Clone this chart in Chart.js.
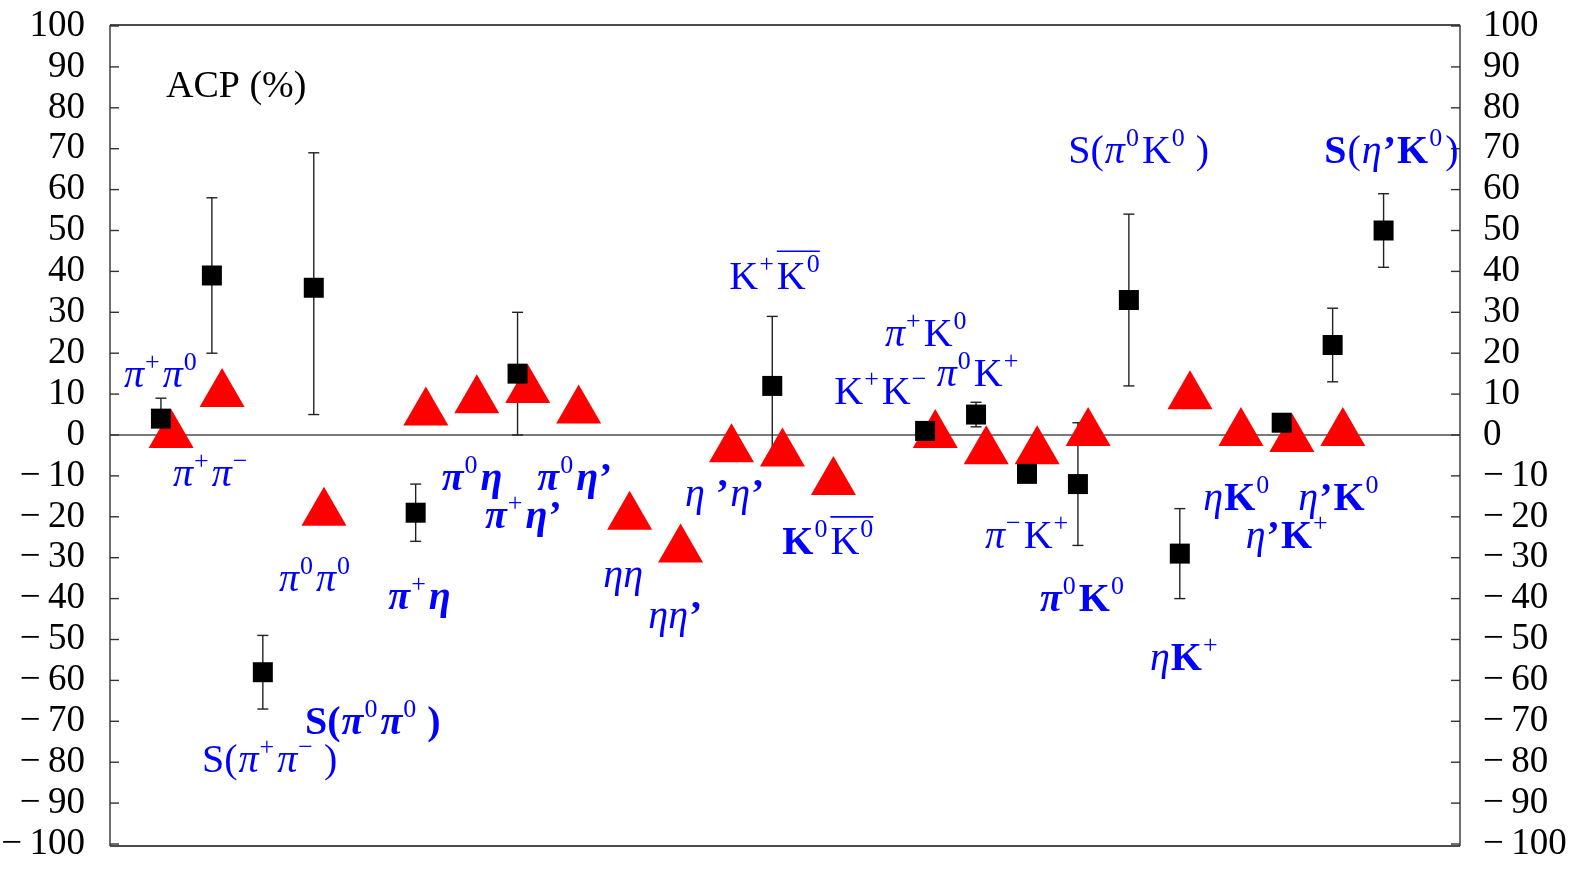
<!DOCTYPE html>
<html>
<head>
<meta charset="utf-8">
<script src="https://cdn.jsdelivr.net/npm/chart.js@4"></script>
<style>
  html, body { margin: 0; padding: 0; background: #fff; overflow: hidden; }
  canvas { display: block; }
</style>
</head>
<body>
<canvas id="acp" width="1571" height="870"></canvas>
<script>
// ---- data -------------------------------------------------------------
// y axis range and tick step (ACP in %)
const yMin = -100, yMax = 100, yStep = 10;

// measured values (black squares) with asymmetric errors
const expPos      = [0, 1, 2, 3, 5, 7, 12, 15, 16, 17, 18, 19, 20, 22, 23, 24];
const expValue    = [4, 39, -58, 36, -19, 15, 12, 1, 5, -9.5, -12, 33, -29, 3, 22, 50];
const expErrPlus  = [5, 19, 9, 33, 7, 15, 17, 2, 3, 2, 15, 21, 11, 2, 9, 9];
const expErrMinus = [5, 19, 9, 31, 7, 15, 17, 2, 3, 2, 15, 21, 11, 2, 9, 9];

// predictions (red triangles)
const thPos   = [0.2, 1.2, 3.2, 5.2, 6.2, 7.2, 8.2, 9.2, 10.2, 11.2, 12.2, 13.2, 15.2, 16.2, 17.2, 18.2, 20.2, 21.2, 22.2, 23.2];
const thValue = [0, 10, -19, 5.5, 8.5, 11, 6, -20, -28, -3.5, -4.5, -11.5, 0, -4, -4, 0.5, 9.5, 0.5, -1, 0.5];

// decay-channel names; each run is [text, flags] with
// i = italic, b = bold, s = superscript, o = overline
const channelNames = [
  [['π','i'],['+','s'],['π','i'],['0','s']],
  [['π','i'],['+','s'],['π','i'],['−','s']],
  [['π','i'],['0','s'],['π','i'],['0','s']],
  [['S(',''],['π','i'],['+','s'],['π','i'],['−','s'],['\u2009)','']],
  [['S(','b'],['π','bi'],['0','s'],['π','bi'],['0','s'],['\u2009)','b']],
  [['π','bi'],['+','s'],['η','bi']],
  [['π','bi'],['0','s'],['η','bi']],
  [['π','bi'],['+','s'],['η','bi'],['’','b']],
  [['π','bi'],['0','s'],['η','bi'],['’','b']],
  [['ηη','i']],
  [['ηη','i'],['’','b']],
  [['η ','i'],['’','b'],['η','i'],['’','b']],
  [['K',''],['+','s'],['K','o'],['0','so']],
  [['K','b'],['0','s'],['K','o'],['0','so']],
  [['π','i'],['+','s'],['K',''],['0','s']],
  [['K',''],['+','s'],['K',''],['−','s']],
  [['π','i'],['0','s'],['K',''],['+','s']],
  [['π','i'],['−','s'],['K',''],['+','s']],
  [['π','bi'],['0','s'],['K','b'],['0','s']],
  [['S(',''],['π','i'],['0','s'],['K',''],['0','s'],['\u2009)','']],
  [['η','i'],['K','b'],['+','s']],
  [['η','i'],['K','b'],['0','s']],
  [['η','i'],['’','b'],['K','b'],['0','s']],
  [['η','i'],['’','b'],['K','b'],['+','s']],
  [['S','b'],['(',''],['η','i'],['’','b'],['K','b'],['0','s'],[')','']]
];

// ---- layout -----------------------------------------------------------
// where each channel name sits (left end of its baseline, in axis units)
const channelAnchors = [
  [-0.725, 11.68], [0.237, -12.38], [2.317, -38.02], [0.806, -82.51], [2.828, -73.06],
  [4.463, -42.44], [5.511, -13.41], [6.361, -22.79], [7.388, -13.41], [8.683, -37.22],
  [9.567, -47.08], [10.287, -17.43], [11.157, 35.73], [12.197, -29.21], [14.213, 21.88],
  [13.218, 7.52], [15.228, 11.92], [16.176, -27.6], [17.256, -43.07], [17.811, 66.61],
  [19.415, -57.5], [20.461, -18.22], [22.326, -18.22], [21.294, -27.6], [22.836, 66.61]
];
const titleText = 'ACP (%)';
const titleAnchor = [0.099, 82.56];

const SERIF = '"Liberation Serif", "Times New Roman", serif';
const NAME_SIZE = 40, SUP_SIZE = 26, SUP_RAISE = 17;
const AXIS_SIZE = 37;
const PLOT_LEFT = 110, PLOT_RIGHT = 1460, PLOT_TOP = 24.5, PLOT_BOTTOM = 856;

function fontFor(flags, size) {
  return (flags.includes('i') ? 'italic ' : '') + (flags.includes('b') ? 'bold ' : '') + size + 'px ' + SERIF;
}

function drawRuns(ctx, runs, x, y) {
  let cx = x;
  let over = null;
  const overs = [];
  for (const [text, flags] of runs) {
    const sup = flags.includes('s');
    ctx.font = fontFor(sup ? flags.replace('b', '') : flags, sup ? SUP_SIZE : NAME_SIZE);
    ctx.fillText(text, cx, sup ? y - SUP_RAISE : y);
    const w = ctx.measureText(text).width;
    if (flags.includes('o')) {
      if (!over) over = [cx, cx + w]; else over[1] = cx + w;
    } else if (over) { overs.push(over); over = null; }
    cx += w + (sup ? 3 : 1);
  }
  if (over) overs.push(over);
  ctx.lineWidth = 1.6;
  for (const [a, b] of overs) {
    ctx.beginPath();
    ctx.moveTo(a, y - NAME_SIZE * 0.94);
    ctx.lineTo(b, y - NAME_SIZE * 0.94);
    ctx.stroke();
  }
}

function seg(ctx, x1, y1, x2, y2) {
  ctx.beginPath(); ctx.moveTo(x1, y1); ctx.lineTo(x2, y2); ctx.stroke();
}

// frame, inward ticks, zero line and error bars
const framePlugin = {
  id: 'framePlugin',
  beforeDatasetsDraw(chart) {
    const { ctx, chartArea: a, scales } = chart;
    const xs = scales.x, ys = scales.y;
    ctx.save();
    // zero line
    ctx.strokeStyle = '#7a7a7a';
    ctx.lineWidth = 1.8;
    const y0 = ys.getPixelForValue(0);
    seg(ctx, a.left, y0, a.right, y0);
    // frame
    ctx.strokeStyle = '#111';
    ctx.lineWidth = 1.4;
    seg(ctx, a.left, a.top - 1, a.right, a.top - 1);
    seg(ctx, a.left, a.bottom + 2, a.right, a.bottom + 2);
    ctx.strokeStyle = '#333';
    seg(ctx, a.left, a.top - 1, a.left, a.bottom + 2);
    seg(ctx, a.right, a.top - 1, a.right, a.bottom + 2);
    for (const t of ys.ticks) {
      const py = ys.getPixelForValue(t.value);
      seg(ctx, a.left, py, a.left + 9, py);
      seg(ctx, a.right - 9, py, a.right, py);
    }
    // error bars
    ctx.strokeStyle = '#222';
    ctx.lineWidth = 1.4;
    expPos.forEach((p, k) => {
      const px = xs.getPixelForValue(p);
      const top = ys.getPixelForValue(expValue[k] + expErrPlus[k]);
      const bot = ys.getPixelForValue(expValue[k] - expErrMinus[k]);
      seg(ctx, px, top, px, bot);
      seg(ctx, px - 5.5, top, px + 5.5, top);
      seg(ctx, px - 5.5, bot, px + 5.5, bot);
    });
    ctx.restore();
  },
  afterDatasetsDraw(chart) {
    const { ctx, scales } = chart;
    const xs = scales.x, ys = scales.y;
    ctx.save();
    ctx.textBaseline = 'alphabetic';
    ctx.textAlign = 'left';
    ctx.fillStyle = '#000';
    ctx.font = '38px ' + SERIF;
    ctx.fillText(titleText, xs.getPixelForValue(titleAnchor[0]), ys.getPixelForValue(titleAnchor[1]));
    ctx.fillStyle = '#0000ff';
    ctx.strokeStyle = '#0000ff';
    channelNames.forEach((runs, k) => {
      const [ax, ay] = channelAnchors[k];
      drawRuns(ctx, runs, xs.getPixelForValue(ax), ys.getPixelForValue(ay));
    });
    ctx.restore();
  }
};

const tickText = v => (v < 0 ? '−\u2009' + Math.abs(v) : String(v));

function fixWidth(w) {
  return function (scale) {
    scale.width = w;
    scale.paddingTop = 0;
    scale.paddingBottom = 0;
  };
}

const yAxisBase = {
  type: 'linear',
  min: yMin, max: yMax,
  grid: { display: false, drawTicks: false },
  border: { display: false },
  ticks: {
    stepSize: yStep,
    autoSkip: false,
    color: '#000',
    font: { family: SERIF, size: AXIS_SIZE },
    callback: tickText
  }
};

new Chart(document.getElementById('acp'), {
  type: 'scatter',
  data: {
    datasets: [
      {
        label: 'measured',
        data: expPos.map((p, k) => ({ x: p, y: expValue[k] })),
        pointStyle: 'rect',
        pointRadius: 14.14,
        pointHoverRadius: 14.14,
        backgroundColor: '#000',
        borderWidth: 0,
        showLine: false,
        clip: false
      },
      {
        label: 'predicted',
        data: thPos.map((p, k) => ({ x: p, y: thValue[k] })),
        pointStyle: 'triangle',
        pointRadius: 26,
        pointHoverRadius: 26,
        backgroundColor: '#ff0000',
        borderWidth: 0,
        showLine: false,
        clip: false
      }
    ]
  },
  options: {
    responsive: false,
    animation: false,
    events: [],
    layout: { padding: { left: 0, right: 0, top: PLOT_TOP, bottom: 870 - PLOT_BOTTOM } },
    plugins: { legend: { display: false }, tooltip: { enabled: false } },
    scales: {
      x: { type: 'linear', min: -1, max: 25.5, display: false },
      y: Object.assign({}, yAxisBase, {
        position: 'left',
        ticks: Object.assign({}, yAxisBase.ticks, { padding: 25 }),
        afterFit: fixWidth(PLOT_LEFT)
      }),
      y2: Object.assign({}, yAxisBase, {
        position: 'right',
        ticks: Object.assign({}, yAxisBase.ticks, { padding: 23 }),
        afterFit: fixWidth(1571 - PLOT_RIGHT)
      })
    }
  },
  plugins: [framePlugin]
});
</script>
</body>
</html>
